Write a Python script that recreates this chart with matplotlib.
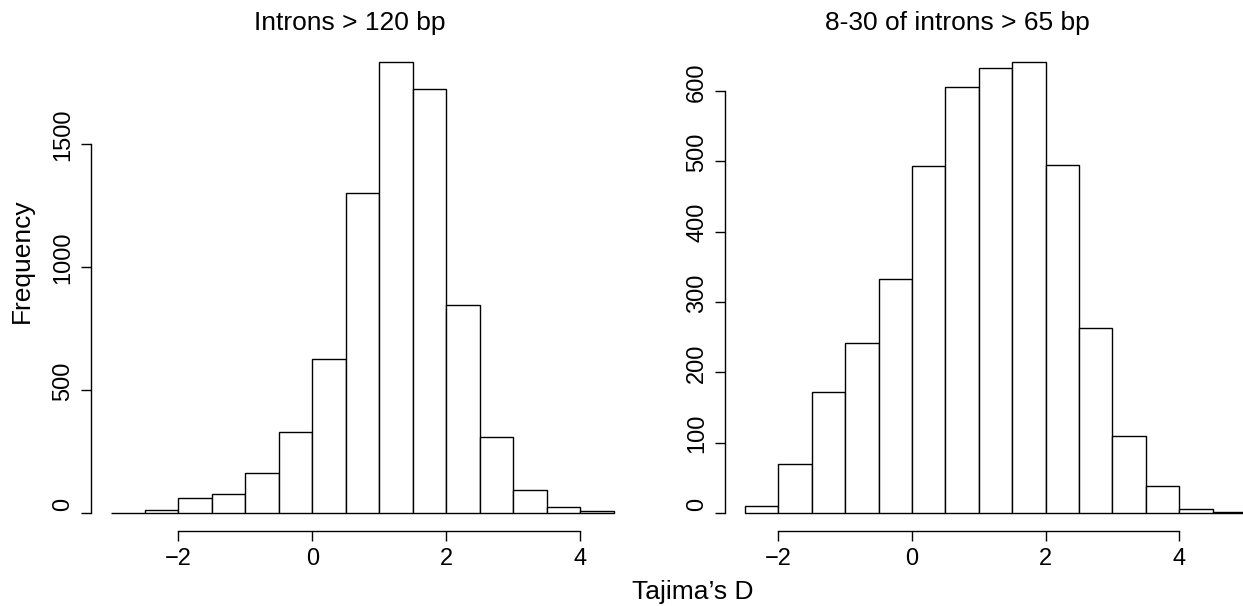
import numpy as np
import matplotlib
matplotlib.use("Agg")
import matplotlib.pyplot as plt
from matplotlib.transforms import ScaledTranslation

# Histograms of Tajima's D (bin width 0.5)
left_breaks = np.arange(-3.0, 4.51, 0.5)
left_counts = [1, 11, 59, 77, 162, 330, 627, 1300, 1832, 1722, 846, 308, 93, 24, 6]
right_breaks = np.arange(-2.5, 5.01, 0.5)
right_counts = [10, 69, 172, 241, 332, 493, 605, 633, 641, 494, 263, 110, 38, 6, 1]

left_title = "Introns > 120 bp"
right_title = "8-30 of introns > 65 bp"
x_ticks = [-2, 0, 2, 4]
left_yticks = [0, 500, 1000, 1500]
right_yticks = [0, 100, 200, 300, 400, 500, 600]

plt.rcParams['font.family'] = ['Liberation Sans', 'DejaVu Sans']
plt.rcParams['axes.unicode_minus'] = True

fig = plt.figure(figsize=(12.43, 6.06), dpi=100)
W, H = 1243.0, 606.0
fs = 19       # titles and axis labels
fs_tick = 17  # tick labels


def r_hist(ax, breaks, counts, yticks):
    ax.bar(breaks[:-1], counts, width=np.diff(breaks), align='edge',
           color='white', edgecolor='black', linewidth=1.0)
    # R style: 4% padding around the data range
    lo, hi = breaks[0], breaks[-1]
    pad = 0.04 * (hi - lo)
    ax.set_xlim(lo - pad, hi + pad)
    top = max(counts)
    ax.set_ylim(-0.04 * top, 1.04 * top)
    for s in ['top', 'right']:
        ax.spines[s].set_visible(False)
    ax.spines['bottom'].set_bounds(x_ticks[0], x_ticks[-1])
    ax.spines['left'].set_bounds(yticks[0], yticks[-1])
    ax.spines['bottom'].set_linewidth(1.0)
    ax.spines['left'].set_linewidth(1.0)
    ax.set_xticks(x_ticks)
    ax.set_xticklabels(['\u22122', '0', '2', '4'])
    ax.set_yticks(yticks)
    ax.set_yticklabels([str(v) for v in yticks], rotation=90, va='center')
    ax.tick_params(direction='out', length=7.2, width=1.0, labelsize=fs_tick, pad=5)
    # the rotated y labels sit a little above their ticks in the reference
    shift = ScaledTranslation(0, 0.09, fig.dpi_scale_trans)
    for lab in ax.get_yticklabels():
        lab.set_transform(lab.get_transform() + shift)
    ax.patch.set_alpha(0)


ax1 = fig.add_axes([91 / W, (H - 531) / H, 543 / W, 487 / H])
r_hist(ax1, left_breaks, left_counts, left_yticks)

ax2 = fig.add_axes([725 / W, (H - 531) / H, 541 / W, 487 / H])
r_hist(ax2, right_breaks, right_counts, right_yticks)

# titles and axis labels placed where they sit in the reference
fig.text(350 / W, 1 - 30 / H, left_title, ha='center', va='baseline', fontsize=fs)
fig.text(957 / W, 1 - 30 / H, right_title, ha='center', va='baseline', fontsize=fs)
fig.text(22 / W, 1 - 261 / H, 'Frequency', ha='center', va='center',
         rotation=90, fontsize=fs)
fig.text(693 / W, 1 - 592 / H, 'Tajima\u2019s D', ha='center', va='center', fontsize=fs)

fig.savefig('out.png', dpi=100)
